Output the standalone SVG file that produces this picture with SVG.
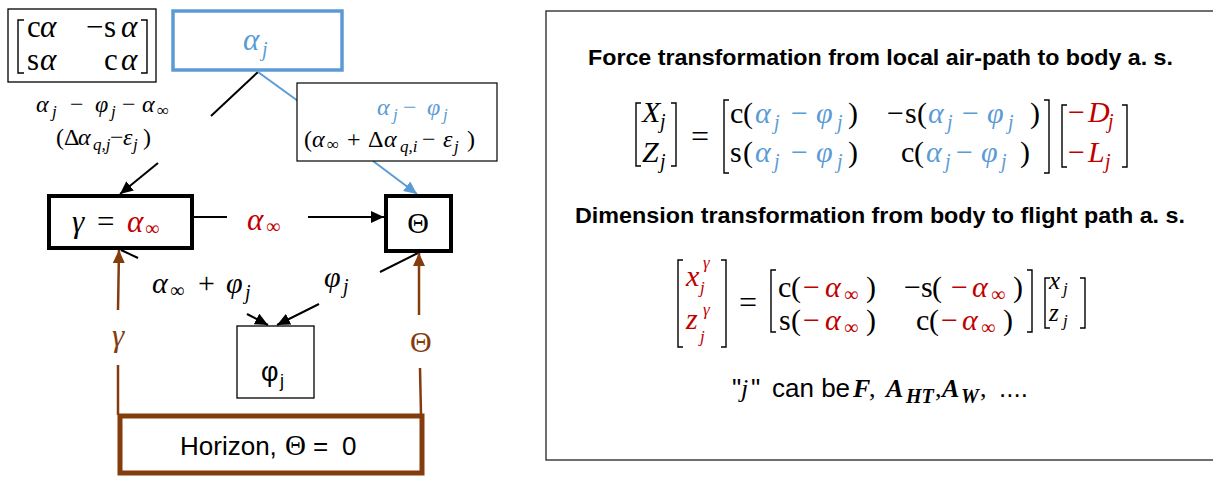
<svg xmlns="http://www.w3.org/2000/svg" width="1213" height="477" viewBox="0 0 1213 477">
<style>
text{font-family:"Liberation Serif","DejaVu Serif",serif;fill:#000}
.i{font-style:italic}
.bl{fill:#5B9BD5}
.rd{fill:#C00000}
.bw{fill:#843C0C}
.sans{font-family:"Liberation Sans","DejaVu Sans",sans-serif}
.m28{font-size:31px}
.m27{font-size:30px}
.m22{font-size:24px}
.s19{font-size:20px}
.s16{font-size:17px}
.brk{fill:none;stroke:#000;stroke-width:1.4}
.ttl{font-family:"Liberation Sans","DejaVu Sans",sans-serif;font-weight:bold;font-size:22px}
</style>
<defs>
<marker id="ak" markerUnits="userSpaceOnUse" markerWidth="14" markerHeight="12" refX="13" refY="6" orient="auto"><path d="M0,0 L13,6 L0,12 z" fill="#000"/></marker>
<marker id="ab" markerUnits="userSpaceOnUse" markerWidth="14" markerHeight="12" refX="13" refY="6" orient="auto"><path d="M0,0 L13,6 L0,12 z" fill="#5B9BD5"/></marker>
<marker id="ar" markerUnits="userSpaceOnUse" markerWidth="14" markerHeight="12" refX="13" refY="6" orient="auto"><path d="M0,0 L13,6 L0,12 z" fill="#843C0C"/></marker>
</defs>
<rect width="1213" height="477" fill="#fff"/>

<g id="connectors" fill="none" stroke-width="2">
  <line x1="258" y1="72" x2="211" y2="116" stroke="#000"/>
  <line x1="158" y1="163" x2="120" y2="194" stroke="#000" marker-end="url(#ak)"/>
  <line x1="258" y1="72" x2="298" y2="101" stroke="#5B9BD5"/>
  <line x1="373" y1="161" x2="417" y2="194" stroke="#5B9BD5" marker-end="url(#ab)"/>
  <line x1="192" y1="217" x2="227" y2="217" stroke="#000"/>
  <line x1="308" y1="217" x2="384" y2="217" stroke="#000" marker-end="url(#ak)"/>
  <line x1="121" y1="250" x2="138" y2="258" stroke="#000"/>
  <line x1="247" y1="314" x2="268" y2="325" stroke="#000" marker-end="url(#ak)"/>
  <line x1="418" y1="253" x2="380" y2="272" stroke="#000"/>
  <line x1="319" y1="304" x2="277" y2="325" stroke="#000" marker-end="url(#ak)"/>
  <line x1="118" y1="415" x2="118" y2="365" stroke="#843C0C" stroke-width="2.5"/>
  <line x1="118" y1="310" x2="119" y2="250" stroke="#843C0C" stroke-width="2.5" marker-end="url(#ar)"/>
  <line x1="421" y1="415" x2="420" y2="368" stroke="#843C0C" stroke-width="2.5"/>
  <line x1="419" y1="315" x2="419" y2="253" stroke="#843C0C" stroke-width="2.5" marker-end="url(#ar)"/>
</g>

<g id="labels">
  <text class="m22"><tspan class="i" x="36" y="112">α</tspan><tspan class="i s16" x="52" y="117">j</tspan><tspan x="70" y="112">−</tspan><tspan class="i" x="95" y="112">φ</tspan><tspan class="i s16" x="111" y="117">j</tspan><tspan x="122" y="112">−</tspan><tspan class="i" x="142" y="112">α</tspan><tspan class="s16" x="157" y="116">∞</tspan></text>
  <text class="m22"><tspan x="56" y="145">(</tspan><tspan x="64" y="145">Δ</tspan><tspan class="i" x="78" y="145">α</tspan><tspan class="i s16" x="93" y="150">q,j</tspan><tspan x="110" y="145">−</tspan><tspan class="i" x="123" y="145">ε</tspan><tspan class="i s16" x="133" y="150">j</tspan><tspan x="143" y="145">)</tspan></text>
  <text class="m28 rd"><tspan class="i" x="247" y="230">α</tspan><tspan class="s19" x="266" y="233">∞</tspan></text>
  <text class="m27"><tspan class="i" x="152" y="293">α</tspan><tspan class="s19" x="170" y="297">∞</tspan><tspan x="198" y="293">+</tspan><tspan class="i" x="226" y="293">φ</tspan><tspan class="i s19" x="245" y="299">j</tspan></text>
  <text class="m27"><tspan class="i" x="324" y="287">φ</tspan><tspan class="i s19" x="343" y="293">j</tspan></text>
  <text class="m28 bw i" x="112" y="346">γ</text>
  <text class="m27 bw" x="410" y="352">Θ</text>
</g>

<g id="node-matrix">
  <rect x="8" y="9" width="148" height="73" fill="#fff" stroke="#000" stroke-width="1.3"/>
  <path class="brk" d="M24,20 H18 V73 H24"/>
  <path class="brk" d="M141,20 H147 V73 H141"/>
  <text class="m28"><tspan x="27" y="37">c</tspan><tspan class="i" x="40" y="37">α</tspan><tspan x="86" y="37">−</tspan><tspan x="104" y="37">s</tspan><tspan class="i" x="121" y="37">α</tspan></text>
  <text class="m28"><tspan x="27" y="70">s</tspan><tspan class="i" x="40" y="70">α</tspan><tspan x="104" y="70">c</tspan><tspan class="i" x="121" y="70">α</tspan></text>
</g>

<g id="node-alpha-j">
  <rect x="173" y="11" width="169" height="59" fill="#fff" stroke="#5B9BD5" stroke-width="3.5"/>
  <text class="m28 bl"><tspan class="i" x="243" y="50">α</tspan><tspan class="i s19" x="262" y="56">j</tspan></text>
</g>

<g id="node-label-box">
  <rect x="297" y="83" width="200" height="78" fill="#fff" stroke="#000" stroke-width="1.2"/>
  <text class="m22 bl"><tspan class="i" x="377" y="115">α</tspan><tspan class="i s16" x="393" y="120">j</tspan><tspan x="403" y="115">−</tspan><tspan class="i" x="427" y="115">φ</tspan><tspan class="i s16" x="443" y="120">j</tspan></text>
  <text class="m22"><tspan x="304" y="147">(</tspan><tspan class="i" x="312" y="147">α</tspan><tspan class="s16" x="327" y="150">∞</tspan><tspan x="347" y="147">+</tspan><tspan x="368" y="147">Δ</tspan><tspan class="i" x="384" y="147">α</tspan><tspan class="i s16" x="400" y="152">q,i</tspan><tspan x="422" y="147">−</tspan><tspan class="i" x="443" y="147">ε</tspan><tspan class="i s16" x="454" y="152">j</tspan><tspan x="467" y="147">)</tspan></text>
</g>

<g id="node-gamma">
  <rect x="49" y="196" width="143" height="52" fill="#fff" stroke="#000" stroke-width="4"/>
  <text class="m28"><tspan class="i" x="72" y="232">γ</tspan><tspan x="97" y="232">=</tspan><tspan class="i rd" x="127" y="232">α</tspan><tspan class="s19 rd" x="145" y="235">∞</tspan></text>
</g>

<g id="node-theta">
  <rect x="386" y="196" width="65" height="55" fill="#fff" stroke="#000" stroke-width="4"/>
  <text class="m27" x="418" y="233" text-anchor="middle">Θ</text>
</g>

<g id="node-phi">
  <rect x="237" y="326" width="77" height="72" fill="#fff" stroke="#000" stroke-width="1.3"/>
  <text class="sans" style="font-size:27px"><tspan x="261" y="381">φ</tspan><tspan style="font-size:18px" x="280" y="387">j</tspan></text>
</g>

<g id="node-horizon">
  <rect x="120" y="416" width="302" height="57" fill="#fff" stroke="#843C0C" stroke-width="5"/>
  <text class="sans" style="font-size:26px"><tspan x="180" y="455">Horizon,</tspan><tspan style="font-family:'Liberation Serif',serif;font-size:29px" x="285" y="455">Θ</tspan><tspan x="313" y="455">=</tspan><tspan x="342" y="455">0</tspan></text>
</g>

<g id="formula-panel">
  <rect x="546" y="11" width="680" height="449" fill="none" stroke="#222" stroke-width="1.3"/>
  <text class="ttl" x="588" y="65" textLength="585" lengthAdjust="spacingAndGlyphs">Force transformation from local air-path to body a. s.</text>
  <path class="brk" d="M641,103 H636 V166 H641"/>
  <path class="brk" d="M671,103 H676 V166 H671"/>
  <text class="m27"><tspan class="i" x="642" y="122">X</tspan><tspan class="i s19" x="660" y="128">j</tspan></text>
  <text class="m27"><tspan class="i" x="642" y="162">Z</tspan><tspan class="i s19" x="660" y="168">j</tspan></text>
  <text style="font-size:32px" x="691" y="147">=</text>
  <path class="brk" d="M729,100 H724 V173 H729"/>
  <path class="brk" d="M1044,100 H1049 V173 H1044"/>
  <text class="m27"><tspan x="730" y="123">c</tspan><tspan x="743" y="123">(</tspan><tspan class="i bl" x="755" y="123">α</tspan><tspan class="i bl s19" x="774" y="129">j</tspan><tspan class="bl" x="791" y="123">−</tspan><tspan class="i bl" x="816" y="123">φ</tspan><tspan class="i bl s19" x="837" y="129">j</tspan><tspan x="848" y="123">)</tspan></text>
  <text class="m27"><tspan x="887" y="123">−</tspan><tspan x="905" y="123">s</tspan><tspan x="917" y="123">(</tspan><tspan class="i bl" x="928" y="123">α</tspan><tspan class="i bl s19" x="947" y="129">j</tspan><tspan class="bl" x="962" y="123">−</tspan><tspan class="i bl" x="987" y="123">φ</tspan><tspan class="i bl s19" x="1008" y="129">j</tspan><tspan x="1030" y="123">)</tspan></text>
  <text class="m27"><tspan x="730" y="162">s</tspan><tspan x="743" y="162">(</tspan><tspan class="i bl" x="755" y="162">α</tspan><tspan class="i bl s19" x="774" y="168">j</tspan><tspan class="bl" x="791" y="162">−</tspan><tspan class="i bl" x="816" y="162">φ</tspan><tspan class="i bl s19" x="837" y="168">j</tspan><tspan x="848" y="162">)</tspan></text>
  <text class="m27"><tspan x="901" y="162">c</tspan><tspan x="914" y="162">(</tspan><tspan class="i bl" x="926" y="162">α</tspan><tspan class="i bl s19" x="945" y="168">j</tspan><tspan class="bl" x="956" y="162">−</tspan><tspan class="i bl" x="981" y="162">φ</tspan><tspan class="i bl s19" x="1001" y="168">j</tspan><tspan x="1020" y="162">)</tspan></text>
  <path class="brk" d="M1067,105 H1062 V167 H1067"/>
  <path class="brk" d="M1122,105 H1127 V167 H1122"/>
  <text class="m27 rd"><tspan x="1068" y="122">−</tspan><tspan class="i" x="1088" y="122">D</tspan><tspan class="i s19" x="1108" y="128">j</tspan></text>
  <text class="m27 rd"><tspan x="1068" y="162">−</tspan><tspan class="i" x="1088" y="162">L</tspan><tspan class="i s19" x="1105" y="168">j</tspan></text>

  <text class="ttl" x="575" y="223" textLength="610" lengthAdjust="spacingAndGlyphs">Dimension transformation from body to flight path a. s.</text>
  <path class="brk" d="M683,260 H678 V347 H683"/>
  <path class="brk" d="M721,260 H726 V347 H721"/>
  <text class="m27 rd"><tspan class="i" x="686" y="286">x</tspan><tspan class="i s16" x="703" y="268">γ</tspan><tspan class="i s16" x="700" y="293">j</tspan></text>
  <text class="m27 rd"><tspan class="i" x="686" y="329">z</tspan><tspan class="i s16" x="703" y="315">γ</tspan><tspan class="i s16" x="700" y="342">j</tspan></text>
  <text style="font-size:32px" x="739" y="313">=</text>
  <path class="brk" d="M776,270 H771 V332 H776"/>
  <path class="brk" d="M1027,270 H1032 V332 H1027"/>
  <text class="m27"><tspan x="778" y="297">c</tspan><tspan x="791" y="297">(</tspan><tspan class="rd" x="803" y="297">−</tspan><tspan class="i rd" x="825" y="297">α</tspan><tspan class="s19 rd" x="844" y="301">∞</tspan><tspan x="866" y="297">)</tspan></text>
  <text class="m27"><tspan x="904" y="297">−</tspan><tspan x="921" y="297">s</tspan><tspan x="932" y="297">(</tspan><tspan class="rd" x="951" y="297">−</tspan><tspan class="i rd" x="972" y="297">α</tspan><tspan class="s19 rd" x="991" y="301">∞</tspan><tspan x="1013" y="297">)</tspan></text>
  <text class="m27"><tspan x="779" y="330">s</tspan><tspan x="791" y="330">(</tspan><tspan class="rd" x="803" y="330">−</tspan><tspan class="i rd" x="825" y="330">α</tspan><tspan class="s19 rd" x="844" y="334">∞</tspan><tspan x="866" y="330">)</tspan></text>
  <text class="m27"><tspan x="916" y="330">c</tspan><tspan x="929" y="330">(</tspan><tspan class="rd" x="941" y="330">−</tspan><tspan class="i rd" x="962" y="330">α</tspan><tspan class="s19 rd" x="981" y="334">∞</tspan><tspan x="1003" y="330">)</tspan></text>
  <path class="brk" d="M1050,278 H1045 V328 H1050"/>
  <path class="brk" d="M1080,278 H1085 V328 H1080"/>
  <text style="font-size:25px"><tspan class="i" x="1049" y="289">x</tspan><tspan class="i s16" x="1063" y="294">j</tspan></text>
  <text style="font-size:25px"><tspan class="i" x="1049" y="321">z</tspan><tspan class="i s16" x="1063" y="326">j</tspan></text>

  <text style="font-size:26px"><tspan class="sans" x="732" y="397">"</tspan><tspan class="i" x="741" y="397">j</tspan><tspan class="sans" x="751" y="397">"</tspan><tspan class="sans" x="772" y="397">can be</tspan><tspan class="i" font-weight="bold" x="853" y="397">F</tspan><tspan x="869" y="397">,</tspan><tspan class="i" font-weight="bold" x="886" y="397">A</tspan><tspan class="i s19" font-weight="bold" x="906" y="403">HT</tspan><tspan x="935" y="397">,</tspan><tspan class="i" font-weight="bold" x="942" y="397">A</tspan><tspan class="i s19" font-weight="bold" x="961" y="403">W</tspan><tspan x="980" y="397">,</tspan><tspan class="sans" x="999" y="397">....</tspan></text>
</g>
</svg>
